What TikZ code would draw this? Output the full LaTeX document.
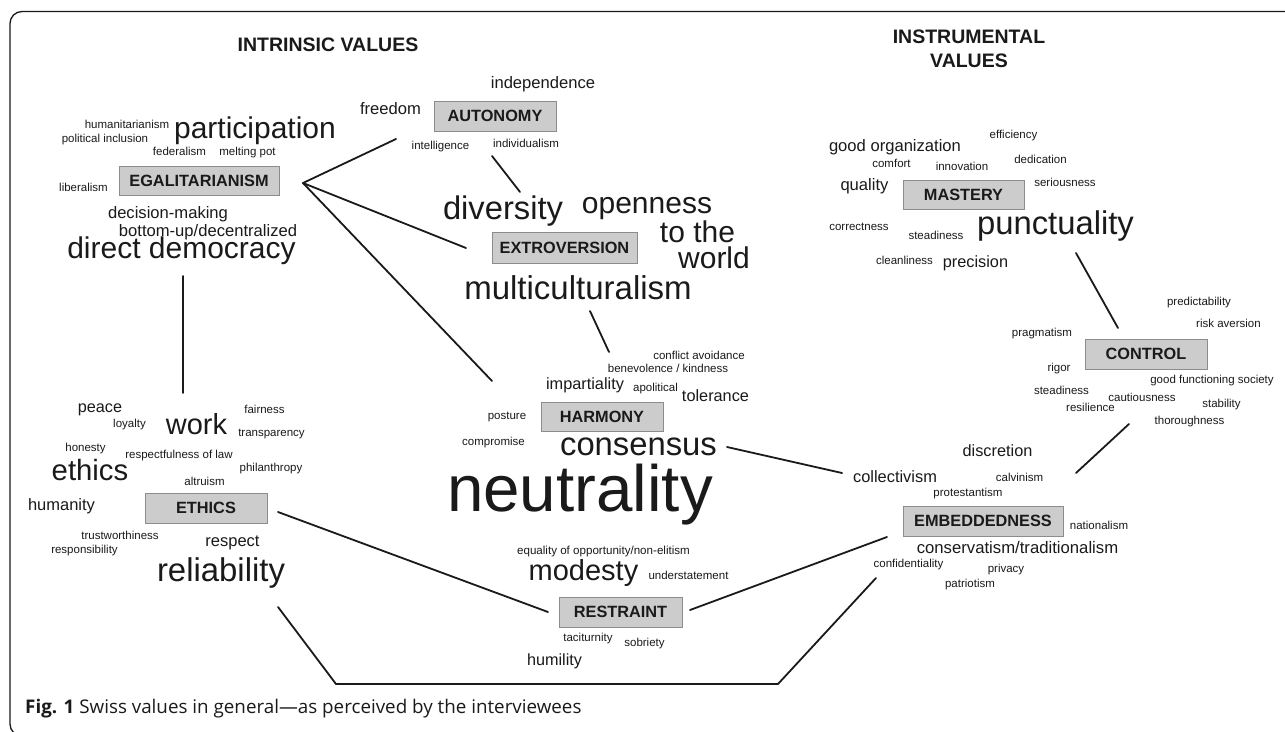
\documentclass[tikz,border=0pt]{standalone}
\usepackage{fontspec}
\setmainfont{Liberation Sans}
\newfontfamily\capfont{Open Sans}
\definecolor{ink}{HTML}{1A1A1A}
\definecolor{boxfill}{HTML}{CCCCCC}
\definecolor{boxline}{HTML}{8C8C8C}
\begin{document}
\begin{tikzpicture}[x=1pt,y=-1pt,
  wd/.style={font=\fontsize{#1pt}{#1pt}\selectfont, anchor=base, inner sep=0pt, text=ink},
  hd/.style={font=\fontsize{19.5pt}{19.5pt}\selectfont\bfseries, anchor=base, inner sep=0pt, text=ink},
  cat/.style={draw=boxline, fill=boxfill, line width=0.9pt, inner sep=0pt,
    font=\fontsize{16.3pt}{16.3pt}\selectfont\bfseries, text=ink},
  link/.style={line width=1.8pt, draw=ink, line cap=round, line join=round}
]
\useasboundingbox (0,0) rectangle (1285,731);
\fill[white] (0,0) rectangle (1285,731);

% outer frame, open to the right and bottom
\draw[line width=1.3pt, ink, rounded corners=12pt] (1290,11.5) -- (10,11.5) -- (10,736) -- (40,736);

% column headings
\node[hd] (hintr) at (328,51) {INTRINSIC VALUES};
\node[hd] (hinst) at (969,43) {INSTRUMENTAL};
\node[hd] (hinstb) at (969,67) {VALUES};

% value categories
\node[cat, minimum width=122pt, minimum height=30pt] (auto)  at (495,116)   {AUTONOMY};
\node[cat, minimum width=160pt, minimum height=29pt] (egal)  at (199,180.5) {EGALITARIANISM};
\node[cat, minimum width=145pt, minimum height=31pt] (extro) at (564.5,247.5) {EXTROVERSION};
\node[cat, minimum width=122pt, minimum height=29pt] (harm)  at (602,416.5) {HARMONY};
\node[cat, minimum width=121pt, minimum height=29pt] (mast)  at (963.5,194.5) {MASTERY};
\node[cat, minimum width=122pt, minimum height=30pt] (ctrl)  at (1146,354)  {CONTROL};
\node[cat, minimum width=122pt, minimum height=30pt] (eth)   at (206,508)   {ETHICS};
\node[cat, minimum width=123pt, minimum height=30pt] (restr) at (620.5,612) {RESTRAINT};
\node[cat, minimum width=160pt, minimum height=30pt] (embed) at (983,521)   {EMBEDDEDNESS};

% egalitarianism
\node[wd=11.5] (humanit)  at (127,128)   {humanitarianism};
\node[wd=30]   (particip) at (255,138)   {participation};
\node[wd=11.5] (polinc)   at (105,142)   {political inclusion};
\node[wd=11.5] (feder)    at (179.5,155) {federalism};
\node[wd=11.5] (melt)     at (247.5,155) {melting pot};
\node[wd=11.5] (liber)    at (83.5,191)  {liberalism};
\node[wd=16.6] (decis)    at (168,218)   {decision-making};
\node[wd=16.6] (bottomup) at (208,236)   {bottom-up/decentralized};
\node[wd=30]   (direct)   at (181.5,258.5) {direct democracy};

% autonomy
\node[wd=16.6] (indep)   at (543,88)    {independence};
\node[wd=16.6] (freedom) at (390.5,114) {freedom};
\node[wd=11.5] (intell)  at (440.5,149) {intelligence};
\node[wd=11.5] (indiv)   at (526,147)   {individualism};

% extroversion
\node[wd=32.7] (divers) at (503,219)   {diversity};
\node[wd=30]   (open)   at (647,213)   {openness};
\node[wd=30]   (tothe)  at (697.5,242) {to the};
\node[wd=30]   (world)  at (714,268)   {world};
\node[wd=33]   (multi)  at (578,299)   {multiculturalism};

% harmony
\node[wd=11.5] (conflict) at (699,359)   {conflict avoidance};
\node[wd=11.5] (benev)    at (668,372)   {benevolence / kindness};
\node[wd=16.3] (impart)   at (585,389)   {impartiality};
\node[wd=11.5] (apol)     at (655.5,391) {apolitical};
\node[wd=16.3] (toler)    at (715.5,401) {tolerance};
\node[wd=11.5] (posture)  at (507,419)   {posture};
\node[wd=11.5] (compr)    at (493.5,445) {compromise};
\node[wd=32.8] (consens)  at (638.5,455) {consensus};
\node[wd=65.5] (neutr)    at (580,511)   {neutrality};

% mastery
\node[wd=16.6] (goodorg) at (895,151)    {good organization};
\node[wd=11.5] (comfort) at (891.5,167)  {comfort};
\node[wd=11.5] (innov)   at (962,170)    {innovation};
\node[wd=11.5] (effic)   at (1013.5,138) {efficiency};
\node[wd=11.5] (dedic)   at (1040.5,163) {dedication};
\node[wd=11.5] (serious) at (1065,186)   {seriousness};
\node[wd=16.6] (quality) at (864.5,190)  {quality};
\node[wd=11.5] (correct) at (859,230)    {correctness};
\node[wd=11.5] (steadA)  at (936,239)    {steadiness};
\node[wd=32.8] (punct)   at (1055.5,234) {punctuality};
\node[wd=11.5] (clean)   at (904.5,264)  {cleanliness};
\node[wd=16.3] (precis)  at (975.5,267)  {precision};

% control
\node[wd=11.5] (predict)  at (1199,305)   {predictability};
\node[wd=11.5] (risk)     at (1228.5,327) {risk aversion};
\node[wd=11.5] (pragm)    at (1042,336)   {pragmatism};
\node[wd=11.5] (rigor)    at (1059,371)   {rigor};
\node[wd=11.5] (goodfunc) at (1212,383)   {good functioning society};
\node[wd=11.5] (steadB)   at (1061.5,394) {steadiness};
\node[wd=11.5] (caut)     at (1142,401)   {cautiousness};
\node[wd=11.5] (resil)    at (1090.5,411) {resilience};
\node[wd=11.5] (stabil)   at (1221.5,407) {stability};
\node[wd=11.5] (thorough) at (1189.5,424) {thoroughness};

% embeddedness
\node[wd=16.3] (discr)   at (997.5,456)  {discretion};
\node[wd=11.5] (calvin)  at (1019.5,481) {calvinism};
\node[wd=16.4] (collect) at (895,482)    {collectivism};
\node[wd=11.5] (protest) at (968,496)    {protestantism};
\node[wd=11.5] (nation)  at (1099,529)   {nationalism};
\node[wd=16.7] (conserv) at (1017.5,553) {conservatism/traditionalism};
\node[wd=11.5] (confid)  at (908.5,567)  {confidentiality};
\node[wd=11.5] (privacy) at (1006,572)   {privacy};
\node[wd=11.5] (patriot) at (970,587)    {patriotism};

% restraint
\node[wd=11.6] (equal)    at (603.5,554) {equality of opportunity/non-elitism};
\node[wd=29]   (modesty)  at (583.5,580) {modesty};
\node[wd=11.5] (underst)  at (688.5,579) {understatement};
\node[wd=11.5] (tacit)    at (588,641)   {taciturnity};
\node[wd=11.5] (sobriety) at (644.5,646) {sobriety};
\node[wd=16.2] (humility) at (554.5,665) {humility};

% ethics
\node[wd=16.2] (peace)    at (100,412)   {peace};
\node[wd=11.5] (loyalty)  at (129.5,427) {loyalty};
\node[wd=29]   (work)     at (196.5,434) {work};
\node[wd=11.5] (fairness) at (264.5,413) {fairness};
\node[wd=11.5] (transp)   at (271.5,436) {transparency};
\node[wd=11.5] (honesty)  at (85.5,451)  {honesty};
\node[wd=11.5] (respectf) at (179,458)   {respectfulness of law};
\node[wd=29.3] (ethicsw)  at (90,480)    {ethics};
\node[wd=11.5] (philan)   at (271,471)   {philanthropy};
\node[wd=11.5] (altru)    at (204.5,485) {altruism};
\node[wd=16.5] (humanity) at (61.5,510)  {humanity};
\node[wd=11.5] (trustw)   at (120,539)   {trustworthiness};
\node[wd=11.5] (respons)  at (84.5,553)  {responsibility};
\node[wd=16.5] (respect)  at (232.5,546) {respect};
\node[wd=32.9] (reliab)   at (221,581)   {reliability};

% connector end points
\coordinate (egalHub)    at (303,183);
\coordinate (autoIn)     at (396,139);
\coordinate (extroIn)    at (466,248);
\coordinate (harmIn)     at (492,381);
\coordinate (indivOut)   at (492,156);
\coordinate (diversIn)   at (520,192);
\coordinate (multiOut)   at (590,311);
\coordinate (harmTop)    at (609,352);
\coordinate (consOut)    at (727,447);
\coordinate (collIn)     at (842,473);
\coordinate (punctOut)   at (1076,253);
\coordinate (ctrlTop)    at (1118,328);
\coordinate (ctrlBot)    at (1129,424);
\coordinate (embedTop)   at (1076,473);
\coordinate (directOut)  at (183,276);
\coordinate (workTop)    at (183,393);
\coordinate (ethOut)     at (278,512);
\coordinate (restrLeft)  at (548,612);
\coordinate (restrRight) at (690,610);
\coordinate (embedLeft)  at (887,537);
\coordinate (reliabOut)  at (278,607);
\coordinate (baseL)      at (336,684);
\coordinate (baseR)      at (778,684);
\coordinate (confidOut)  at (876,578);

% connectors
\draw[link] (egalHub) -- (autoIn);
\draw[link] (egalHub) -- (extroIn);
\draw[link] (egalHub) -- (harmIn);
\draw[link] (indivOut) -- (diversIn);
\draw[link] (multiOut) -- (harmTop);
\draw[link] (consOut) -- (collIn);
\draw[link] (punctOut) -- (ctrlTop);
\draw[link] (ctrlBot) -- (embedTop);
\draw[link] (directOut) -- (workTop);
\draw[link] (ethOut) -- (restrLeft);
\draw[link] (restrRight) -- (embedLeft);
\draw[link] (reliabOut) -- (baseL) -- (baseR) -- (confidOut);

% caption
\node[anchor=base west, inner sep=0pt, text=ink, font=\capfont\fontsize{18.8pt}{18.8pt}\selectfont] (caption) at (25,713)
  {\textbf{Fig. 1} Swiss values in general—as perceived by the interviewees};
\end{tikzpicture}
\end{document}
